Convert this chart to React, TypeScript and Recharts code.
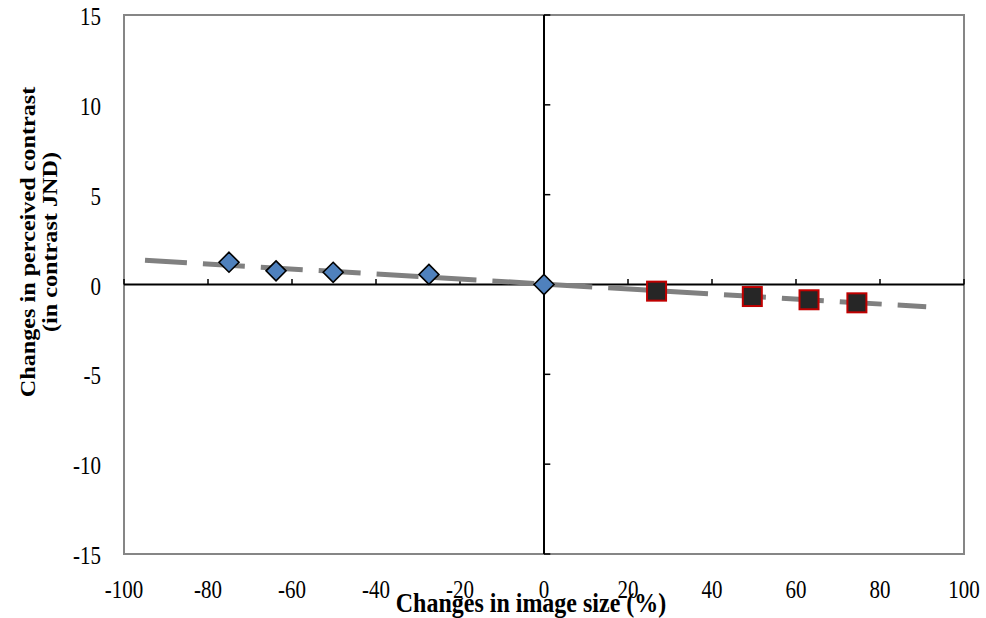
import { ScatterChart, Scatter, XAxis, YAxis, ReferenceLine, ReferenceArea, Label } from 'recharts'

// image size change (%) vs perceived contrast change (JND)
const shrinkSize = [-75, -63.8, -50.2, -27.4, 0]
const shrinkJnd = [1.24, 0.76, 0.68, 0.56, 0]
const enlargeSize = [26.8, 49.6, 63.1, 74.5]
const enlargeJnd = [-0.37, -0.67, -0.85, -1.02]
const trendSize = [-95, 91]
const trendJnd = [1.35, -1.24]

const xTicks = [-100, -80, -60, -40, -20, 0, 20, 40, 60, 80, 100]
const yTicks = [-15, -10, -5, 0, 5, 10, 15]

const FONT = "'Liberation Serif', 'Times New Roman', serif"
const tickStyle = { fontFamily: FONT, fontSize: 21 }
const titleStyle = { fontFamily: FONT, fontSize: 24, fontWeight: 700 }

const toPoints = (xs: number[], ys: number[]) => xs.map((x, i) => ({ x, y: ys[i] }))

const shrinkData = toPoints(shrinkSize, shrinkJnd)
const enlargeData = toPoints(enlargeSize, enlargeJnd)
const trendData = toPoints(trendSize, trendJnd)

const Diamond = (props: any) => {
  const { cx, cy } = props
  const r = 10
  return (
    <path
      d={`M${cx},${cy - r} L${cx + r},${cy} L${cx},${cy + r} L${cx - r},${cy} Z`}
      fill="#4F81BD"
      stroke="#000"
      strokeWidth={1.6}
    />
  )
}

const Square = (props: any) => {
  const { cx, cy } = props
  const h = 9.5
  return <rect x={cx - h} y={cy - h} width={h * 2} height={h * 2} fill="#262626" stroke="#C00000" strokeWidth={2} />
}

// the source picture is a bit taller than wide, so text is stretched vertically
const XTick = ({ x, y, payload }: any) => (
  <text transform={`translate(${x},${y + 42}) scale(1,1.18)`} x={0} y={0} textAnchor="middle" style={tickStyle} fill="#000">
    {payload.value}
  </text>
)

const YTick = ({ x, y, payload }: any) => (
  <text transform={`translate(${x - 21},${y + 10}) scale(1,1.18)`} x={0} y={0} textAnchor="end" style={tickStyle} fill="#000">
    {payload.value}
  </text>
)

export default function App() {
  return (
    <div style={{ position: 'absolute', left: 0, top: 0, width: 986, height: 618, background: '#fff' }}>
      <ScatterChart width={986} height={618} margin={{ top: 15, right: 22, bottom: 0, left: 0 }}>
        <XAxis
          type="number"
          dataKey="x"
          domain={[-100, 100]}
          ticks={xTicks}
          interval={0}
          axisLine={false}
          tickLine={false}
          tickSize={0}
          height={64}
          tick={<XTick />}
        >
          <Label
            content={() => (
              <text transform="translate(531,612) scale(1,1.18)" x={0} y={0} textAnchor="middle" style={titleStyle} fill="#000">
                Changes in image size (%)
              </text>
            )}
          />
        </XAxis>
        <YAxis
          type="number"
          dataKey="y"
          domain={[-15, 15]}
          ticks={yTicks}
          interval={0}
          axisLine={false}
          tickLine={false}
          tickSize={0}
          width={124}
          tick={<YTick />}
        >
          <Label
            content={() => (
              <text transform="translate(0,242) scale(1,1.18) rotate(-90)" textAnchor="middle" style={{ ...titleStyle, fontSize: 20.5 }} fill="#000">
                <tspan x={0} y={35}>Changes in perceived contrast</tspan>
                <tspan x={0} y={57}>(in contrast JND)</tspan>
              </text>
            )}
          />
        </YAxis>
        <ReferenceArea x1={-100} x2={100} y1={-15} y2={15} fill="none" stroke="#868686" strokeWidth={2} />
        <ReferenceLine y={0} stroke="#000" strokeWidth={2} />
        <ReferenceLine x={0} stroke="#000" strokeWidth={2} />
        {xTicks.map(t => (
          <ReferenceLine key={`xt${t}`} segment={[{ x: t, y: 0 }, { x: t, y: 0.3 }]} stroke="#000" strokeWidth={1.5} />
        ))}
        {yTicks.map(t => (
          <ReferenceLine key={`yt${t}`} segment={[{ x: 0, y: t }, { x: 1.5, y: t }]} stroke="#000" strokeWidth={1.5} />
        ))}
        <Scatter
          data={trendData}
          line={{ stroke: '#808080', strokeWidth: 5, strokeDasharray: '42 16' }}
          shape={() => <g />}
          isAnimationActive={false}
        />
        <Scatter data={shrinkData} shape={Diamond} isAnimationActive={false} />
        <Scatter data={enlargeData} shape={Square} isAnimationActive={false} />
      </ScatterChart>
    </div>
  )
}
